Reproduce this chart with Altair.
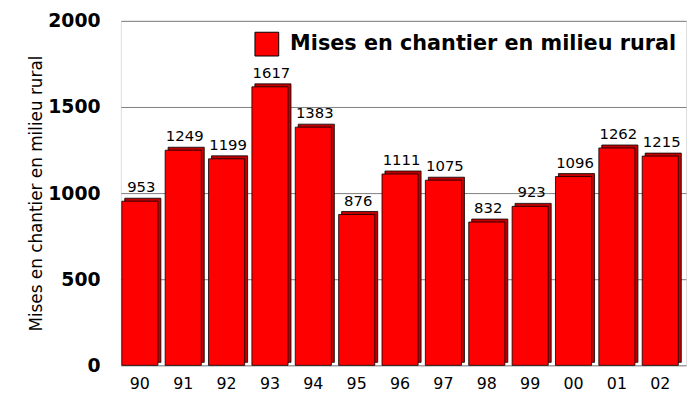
import altair as alt
import pandas as pd

years = ["90", "91", "92", "93", "94", "95", "96", "97", "98", "99", "00", "01", "02"]
values = [953, 1249, 1199, 1617, 1383, 876, 1111, 1075, 832, 923, 1096, 1262, 1215]
series = "Mises en chantier en milieu rural"

df = pd.DataFrame({"annee": years, "valeur": values, "serie": [series] * len(years)})

FONT = "DejaVu Sans"

x = alt.X(
    "annee:N",
    sort=years,
    scale=alt.Scale(paddingInner=0.167, paddingOuter=0.1, align=0.11),
    axis=alt.Axis(
        title=None, labelAngle=0, ticks=False, domain=False,
        labelFontSize=16, labelFont=FONT, labelColor="black", labelPadding=10,
    ),
)
y = alt.Y(
    "valeur:Q",
    scale=alt.Scale(domain=[0, 2000], nice=False),
    axis=alt.Axis(
        title=series, values=[0, 500, 1000, 1500, 2000], format="d",
        ticks=False, domain=False,
        labelFontSize=19, labelFontWeight="bold", labelFont=FONT, labelColor="black",
        labelPadding=21, gridColor="#808080", gridWidth=1,
        titleFontSize=17, titleFontWeight="normal", titleFont=FONT, titleColor="black",
        titleX=-85, titleY=174, titleAngle=-90, titleAlign="center", titleBaseline="middle",
    ),
)

base = alt.Chart(df)

back = base.mark_bar(color="#c00000", stroke="black", strokeWidth=0.8, xOffset=3, yOffset=-3).encode(
    x=x, y=y
)
front = base.mark_bar(stroke="black", strokeWidth=0.8).encode(
    x=x,
    y=y,
    color=alt.Color(
        "serie:N",
        scale=alt.Scale(domain=[series], range=["#ff0000"]),
        legend=alt.Legend(
            title=None, orient="none", legendX=135, legendY=11, padding=0,
            symbolType="square", symbolSize=576, symbolStrokeColor="black",
            symbolStrokeWidth=1, symbolFillColor="#ff0000",
            labelFontSize=21, labelFontWeight="bold", labelFont=FONT,
            labelColor="black", labelOffset=11, labelLimit=600,
        ),
    ),
)
labels = base.mark_text(
    baseline="bottom", dy=-6, dx=1.5, fontSize=15, font=FONT, color="black"
).encode(x=x, y=y, text=alt.Text("valeur:Q", format="d"))

chart = (
    alt.layer(back, front, labels)
    .properties(
        width=571, height=348,
        autosize=alt.AutoSizeParams(type="none"),
        padding={"left": 114, "top": 11, "right": 4, "bottom": 30},
    )
    .configure_view(stroke="black", strokeWidth=1.5)
    .configure(background="white")
)

chart.save("out.html", embed_options={"renderer": "svg", "actions": False})
